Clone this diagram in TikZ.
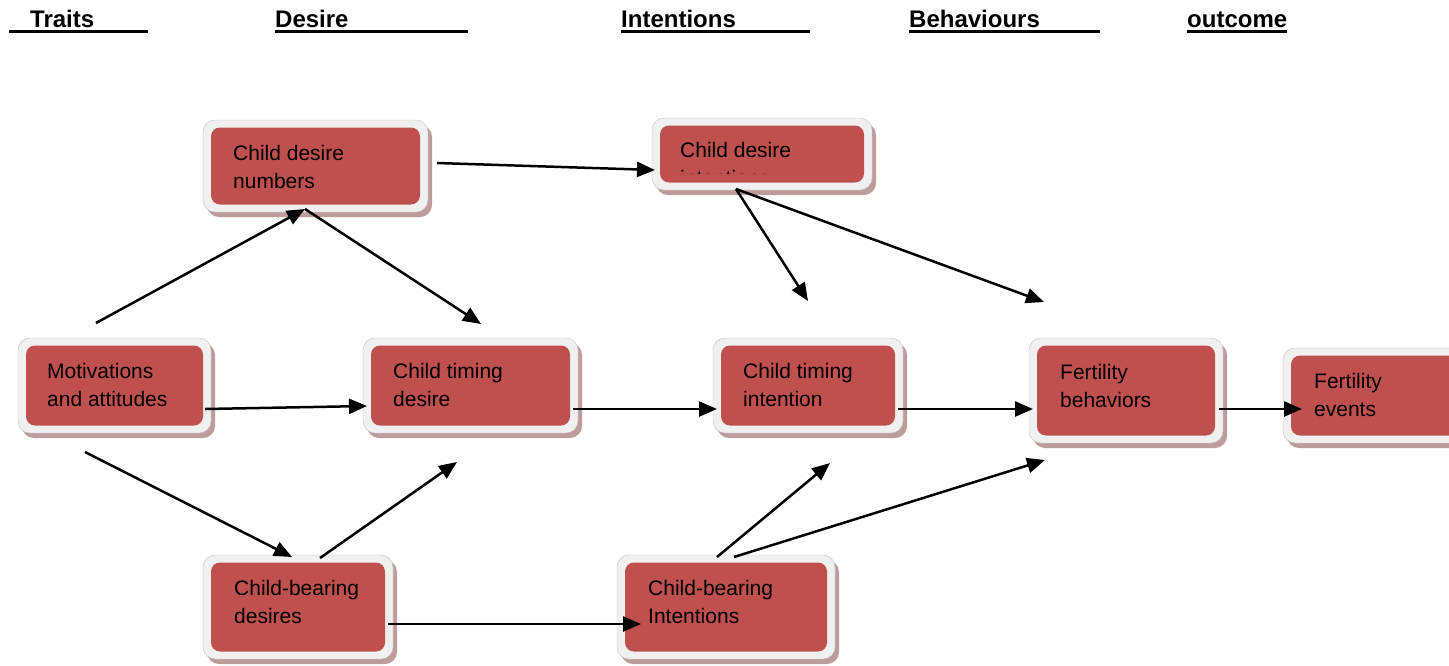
\documentclass[tikz,border=0pt]{standalone}
\usepackage{fontspec}
\setmainfont{Liberation Sans}
\usetikzlibrary{arrows.meta}
\definecolor{boxred}{HTML}{C0504D}
\definecolor{boxgray}{HTML}{F0F0F0}
\definecolor{boxshadow}{HTML}{BE9C9C}
\tikzset{
  outerbox/.style={fill=boxgray, draw=boxgray!80!black, line width=0.4pt, rounded corners=12pt, inner sep=0pt, outer sep=0pt},
  innerbox/.style={fill=boxred, rounded corners=9pt, inner sep=0pt, outer sep=0pt},
  shadowbox/.style={fill=boxshadow, rounded corners=12pt},
  lbl/.style={anchor=base west, inner sep=0pt, font=\fontsize{21}{28}\selectfont, align=left, text=black},
  head/.style={anchor=base west, inner sep=0pt, font=\fontsize{24}{28}\selectfont\bfseries},
  uline/.style={line width=2.8pt},
  arr/.style={line width=2.5pt, -{Triangle[length=18pt,width=15pt]}},
}
% #1 name, #2 x1, #3 y1, #4 x2, #5 y2
\newcommand\rbox[5]{%
  \fill[shadowbox] ({#2+4},{#3+5}) rectangle ({#4+4},{#5+5});
  \node[outerbox, minimum width={#4-#2}, minimum height={#5-#3}] (#1o) at ({(#2+#4)/2},{(#3+#5)/2}) {};
  \node[innerbox, minimum width={#4-#2-16}, minimum height={#5-#3-15}] (#1) at ({(#2+#4)/2},{(#3+#5)/2}) {};
}
\begin{document}
\begin{tikzpicture}[x=1pt,y=-1pt]
\clip (0,0) rectangle (1449,665);
\fill[white] (0,0) rectangle (1449,665);

% headers
\node[head] (h1) at (30,27) {Traits};
\draw[uline] (9,31.5) -- (148,31.5);
\node[head] (h2) at (275,27) {Desire};
\draw[uline] (275,31.5) -- (468,31.5);
\node[head] (h3) at (621,27) {Intentions};
\draw[uline] (621,31.5) -- (810,31.5);
\node[head] (h4) at (909,27) {Behaviours};
\draw[uline] (909,31.5) -- (1100,31.5);
\node[head] (h5) at (1187,27) {outcome};
\draw[uline] (1187,31.5) -- (1287,31.5);

% boxes
\rbox{cdn}{203}{120}{428}{212}
\rbox{cdi}{652}{118}{872}{190}
\rbox{ma}{18}{338}{211}{433}
\rbox{ctd}{363}{338}{578}{433}
\rbox{cti}{713}{338}{903}{433}
\rbox{fb}{1029}{338}{1223}{443}
\rbox{fe}{1283}{348}{1480}{443}
\rbox{cbd}{203}{555}{393}{659}
\rbox{cbi}{617}{555}{835}{659}

% labels (base anchor = baseline of the last line)
\node[lbl] (cdnt) at (233,188) {Child desire\\numbers};
\begin{scope}
  \clip (652,118) rectangle (872,173.5);
  \node[lbl] (cdit) at (680,185) {Child desire\\intentions};
\end{scope}
\node[lbl] (mat) at (47,406) {Motivations\\and attitudes};
\node[lbl] (ctdt) at (393,406) {Child timing\\desire};
\node[lbl] (ctit) at (743,406) {Child timing\\intention};
\node[lbl] (fbt) at (1060,407) {Fertility\\behaviors};
\node[lbl] (fet) at (1314,416) {Fertility\\events};
\node[lbl] (cbdt) at (234,623) {Child-bearing\\desires};
\node[lbl] (cbit) at (648,623) {Child-bearing\\Intentions};

% arrow end points
\coordinate (a1s) at (96,323);   \coordinate (a1e) at (305,209);
\coordinate (a2s) at (305,209);  \coordinate (a2e) at (481,324);
\coordinate (a3s) at (437,163);  \coordinate (a3e) at (655,170);
\coordinate (a4s) at (736,189);  \coordinate (a4e) at (808,301);
\coordinate (a5e) at (1044,302);
\coordinate (a6s) at (205,409);  \coordinate (a6e) at (367,406);
\coordinate (a7s) at (573,409);  \coordinate (a7e) at (717,409);
\coordinate (a8s) at (898,409);  \coordinate (a8e) at (1033,409);
\coordinate (a9s) at (1219,409); \coordinate (a9e) at (1302,409);
\coordinate (a10s) at (85,452);  \coordinate (a10e) at (292,557);
\coordinate (a11s) at (320,558); \coordinate (a11e) at (457,462);
\coordinate (a12s) at (388,624); \coordinate (a12e) at (641,624);
\coordinate (a13s) at (717,557); \coordinate (a13e) at (830,463);
\coordinate (a14s) at (734,557); \coordinate (a14e) at (1045,460);

\draw[arr] (a1s) -- (a1e);
\draw[arr] (a2s) -- (a2e);
\draw[arr] (a3s) -- (a3e);
\draw[arr] (a4s) -- (a4e);
\draw[arr] (a4s) -- (a5e);
\draw[arr] (a6s) -- (a6e);
\draw[arr] (a7s) -- (a7e);
\draw[arr] (a8s) -- (a8e);
\draw[arr] (a9s) -- (a9e);
\draw[arr] (a10s) -- (a10e);
\draw[arr] (a11s) -- (a11e);
\draw[arr] (a12s) -- (a12e);
\draw[arr] (a13s) -- (a13e);
\draw[arr] (a14s) -- (a14e);
\end{tikzpicture}
\end{document}
